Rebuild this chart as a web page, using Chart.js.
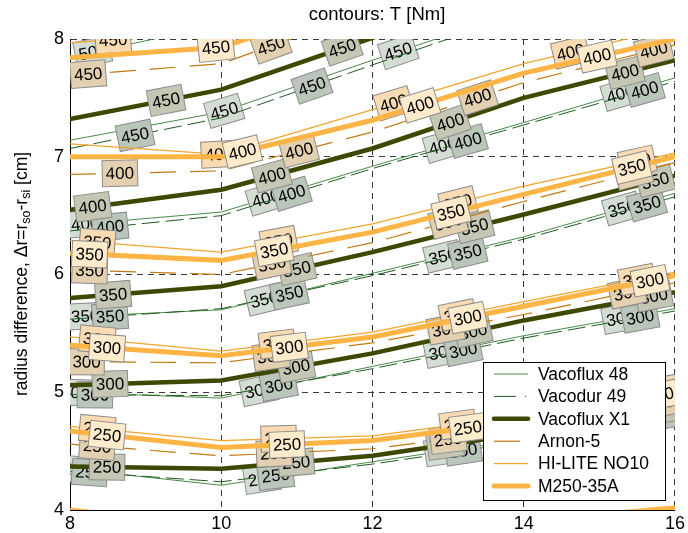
<!DOCTYPE html>
<html>
<head>
<meta charset="utf-8">
<script src="https://cdn.jsdelivr.net/npm/chart.js@4"></script>
<style>
  html, body { margin: 0; padding: 0; background: #fff; }
</style>
</head>
<body>
<canvas id="chart" width="688" height="533"></canvas>
<script>
// grid of outer-radius values and torque levels of the contour lines
const xGrid = [8, 10, 12, 14, 16];
const levels = [200, 250, 300, 350, 400, 450, 500];

// one row per level (null = no contour for that material)
const vacoflux48 = [
  null,
  [4.35, 4.21, 4.41, 4.60, 4.84],
  [5.00, 4.95, 5.22, 5.48, 5.71],
  [5.64, 5.70, 6.01, 6.32, 6.69],
  [6.42, 6.53, 6.92, 7.29, 7.67],
  [7.14, 7.38, 7.82, 8.25, 8.65],
  [7.85, 8.12, 8.55, 9.00, 9.40],
];
const vacodur49 = [
  null,
  [4.33, 4.24, 4.39, 4.58, 4.82],
  [4.98, 4.97, 5.20, 5.46, 5.69],
  [5.62, 5.71, 5.99, 6.30, 6.66],
  [6.37, 6.50, 6.90, 7.27, 7.64],
  [7.07, 7.33, 7.78, 8.22, 8.60],
  null,
];
const vacofluxX1 = [
  null,
  [4.37, 4.35, 4.46, 4.65, 4.87],
  [5.06, 5.10, 5.33, 5.61, 5.85],
  [5.80, 5.90, 6.19, 6.51, 6.84],
  [6.55, 6.72, 7.07, 7.50, 7.82],
  [7.32, 7.57, 8.01, 8.45, 8.85],
  null,
];
const arnon5 = [
  null,
  [4.56, 4.46, 4.52, 4.68, 4.93],
  [5.26, 5.25, 5.42, 5.66, 5.93],
  [6.04, 6.00, 6.27, 6.62, 6.95],
  [6.85, 6.88, 7.21, 7.63, 7.95],
  [7.69, 7.79, 8.25, 8.60, 8.90],
  null,
];
const hiLite = [
  null,
  [4.71, 4.59, 4.63, 4.80, 5.04],
  [5.47, 5.35, 5.51, 5.77, 6.02],
  [6.29, 6.19, 6.43, 6.75, 7.03],
  [7.11, 7.02, 7.40, 7.79, 8.10],
  [7.97, 8.05, 8.45, 8.80, 9.10],
  null,
];
const m250 = [
  [4.00, 3.85, 3.84, 3.90, 4.02],
  [4.67, 4.53, 4.59, 4.76, 5.00],
  [5.40, 5.31, 5.47, 5.73, 5.99],
  [6.18, 6.12, 6.36, 6.68, 7.00],
  [7.00, 7.00, 7.31, 7.71, 8.00],
  [7.84, 7.93, 8.35, 8.70, 9.00],
  null,
];

// inline labels: [level, x position]
const labelsV48 = [
  [250, 8.09], [250, 10.54], [250, 12.93], [250, 15.8],
  [300, 8.07], [300, 10.5], [300, 12.93], [300, 15.28],
  [350, 8.2], [350, 10.57], [350, 12.93], [350, 15.3],
  [400, 8.2], [400, 10.59], [400, 12.93], [400, 15.28],
  [450, 10.04], [450, 12.34], [500, 8.3],
];
const labelsV49 = [
  [250, 8.26], [250, 10.72], [250, 13.2], [250, 15.8],
  [300, 8.33], [300, 10.76], [300, 13.2], [300, 15.54],
  [350, 8.53], [350, 10.9], [350, 13.26], [350, 15.63],
  [400, 8.53], [400, 10.93], [400, 13.26], [400, 15.6],
  [450, 8.86], [450, 11.2],
];
const labelsX1 = [
  [250, 8.49], [250, 10.99], [250, 12.96], [250, 15.8],
  [300, 8.53], [300, 10.99], [300, 13.33], [300, 15.72],
  [350, 8.57], [350, 11.0], [350, 13.35], [350, 15.74],
  [400, 8.3], [400, 10.67], [400, 13.03], [400, 15.34],
  [450, 9.27], [450, 11.6],
];
const labelsArnon = [
  [250, 8.36], [250, 10.7], [250, 13.0], [250, 15.8],
  [300, 8.22], [300, 10.66], [300, 12.97], [300, 15.37],
  [350, 8.26], [350, 10.67], [350, 13.0], [350, 15.45],
  [400, 8.66], [400, 11.03], [400, 13.39], [400, 15.72],
  [450, 8.24], [450, 10.66],
];
const labelsHiLite = [
  [250, 8.36], [250, 10.76], [250, 13.13], [250, 15.8],
  [300, 8.36], [300, 10.74], [300, 13.13], [300, 15.5],
  [350, 8.36], [350, 10.76], [350, 13.13], [350, 15.5],
  [400, 9.97], [400, 12.28], [400, 14.62],
  [450, 8.57],
];
const labelsM250 = [
  [250, 8.49], [250, 10.87], [250, 13.26], [250, 15.8],
  [300, 8.49], [300, 10.9], [300, 13.26], [300, 15.67],
  [350, 8.26], [350, 10.7], [350, 13.04], [350, 15.43],
  [400, 10.28], [400, 12.63], [400, 14.97],
  [450, 9.93],
];

const seriesNames = ['Vacoflux 48', 'Vacodur 49', 'Vacoflux X1', 'Arnon-5', 'HI-LITE NO10', 'M250-35A'];
const seriesRows = [vacoflux48, vacodur49, vacofluxX1, arnon5, hiLite, m250];
const seriesLabels = [labelsV48, labelsV49, labelsX1, labelsArnon, labelsHiLite, labelsM250];

const lineColors = ['#4a8a4a', '#1f5c1f', '#3d4800', '#c07a10', '#f3a42c', '#ffb545'];
const lineWidths = [1, 1, 4.5, 1.2, 1.3, 5];
const lineDashes = [[], [18, 6], [], [26, 14], [], []];
const boxColors = ['#d4ddd4', '#b9c6b9', '#c5c7b4', '#e3d0b0', '#f8dbb2', '#feebcc'];

const FONT = '"Liberation Sans", Arial, sans-serif';

function valueAt(row, x) {
  let i = 0;
  while (i < xGrid.length - 2 && x > xGrid[i + 1]) i++;
  const t = (x - xGrid[i]) / (xGrid[i + 1] - xGrid[i]);
  return row[i] + t * (row[i + 1] - row[i]);
}

function buildPoints(rows) {
  const pts = [];
  rows.forEach((row) => {
    if (!row) return;
    row.forEach((v, i) => pts.push({ x: xGrid[i], y: v }));
    pts.push({ x: xGrid[xGrid.length - 1], y: null });
  });
  return pts;
}

// contour value boxes, drawn right after their own lines
const contourLabels = {
  id: 'contourLabels',
  afterDatasetDraw(chart, args) {
    const s = args.index;
    const { ctx, chartArea, scales } = chart;
    ctx.save();
    ctx.beginPath();
    ctx.rect(chartArea.left, chartArea.top, chartArea.right - chartArea.left, chartArea.bottom - chartArea.top);
    ctx.clip();
    ctx.font = '17px ' + FONT;
    seriesLabels[s].forEach(([level, x]) => {
      const row = seriesRows[s][levels.indexOf(level)];
      const px = scales.x.getPixelForValue(x);
      const py = scales.y.getPixelForValue(valueAt(row, x));
      const ax = scales.x.getPixelForValue(x - 0.1);
      const ay = scales.y.getPixelForValue(valueAt(row, x - 0.1));
      const bx = scales.x.getPixelForValue(x + 0.1);
      const by = scales.y.getPixelForValue(valueAt(row, x + 0.1));
      const angle = Math.atan2(by - ay, bx - ax);
      const text = String(level);
      const w = ctx.measureText(text).width + 7;
      const h = 26;
      ctx.save();
      ctx.translate(px, py);
      ctx.rotate(angle);
      ctx.fillStyle = boxColors[s];
      ctx.fillRect(-w / 2, -h / 2, w, h);
      ctx.strokeStyle = '#8c8c8c';
      ctx.lineWidth = 1;
      ctx.strokeRect(-w / 2, -h / 2, w, h);
      ctx.fillStyle = '#000';
      ctx.textAlign = 'center';
      ctx.textBaseline = 'middle';
      ctx.fillText(text, 0, 1);
      ctx.restore();
    });
    ctx.restore();
  },
};

// title, y-axis label with subscripts, and the boxed legend
const decorations = {
  id: 'decorations',
  afterDraw(chart) {
    const { ctx } = chart;
    ctx.save();
    ctx.fillStyle = '#000';
    ctx.font = '18.5px ' + FONT;
    ctx.textAlign = 'center';
    ctx.textBaseline = 'middle';
    ctx.fillText('contours: T [Nm]', 377, 15);

    // y-axis title
    const parts = [
      ['radius difference, \u0394r=r', false],
      ['so', true],
      ['-r', false],
      ['si', true],
      [' [cm]', false],
    ];
    const widths = parts.map(([t, sub]) => {
      ctx.font = (sub ? '12.5px ' : '17.5px ') + FONT;
      return ctx.measureText(t).width;
    });
    const total = widths.reduce((a, b) => a + b, 0);
    ctx.translate(22, 274);
    ctx.rotate(-Math.PI / 2);
    ctx.textAlign = 'left';
    let pos = -total / 2;
    parts.forEach(([t, sub], i) => {
      ctx.font = (sub ? '12.5px ' : '17.5px ') + FONT;
      ctx.fillText(t, pos, sub ? 5 : 0);
      pos += widths[i];
    });
    ctx.restore();

    // legend
    ctx.save();
    const lx = 483, ly = 362, lw = 182, lh = 138;
    ctx.fillStyle = '#fff';
    ctx.fillRect(lx, ly, lw, lh);
    ctx.strokeStyle = '#000';
    ctx.lineWidth = 1;
    ctx.strokeRect(lx + 0.5, ly + 0.5, lw, lh);
    ctx.font = '17.5px ' + FONT;
    ctx.textBaseline = 'middle';
    seriesNames.forEach((name, i) => {
      const y = ly + 12 + i * 22.4;
      ctx.beginPath();
      ctx.setLineDash(i === 1 ? [22, 9, 1, 9] : lineDashes[i]);
      ctx.strokeStyle = lineColors[i];
      ctx.lineWidth = lineWidths[i];
      ctx.lineCap = lineWidths[i] > 2 ? 'round' : 'butt';
      ctx.moveTo(lx + 11, y);
      ctx.lineTo(lx + 45, y);
      ctx.stroke();
      ctx.setLineDash([]);
      ctx.fillStyle = '#000';
      ctx.fillText(name, lx + 55, y + 1);
    });
    ctx.restore();
  },
};

const datasets = seriesNames.map((name, i) => ({
  label: name,
  data: buildPoints(seriesRows[i]),
  borderColor: lineColors[i],
  borderWidth: lineWidths[i],
  borderDash: lineDashes[i],
  pointRadius: 0,
  tension: 0,
  spanGaps: false,
  fill: false,
  clip: 0,
  order: seriesNames.length - 1 - i,
}));

const gridDash = [6, 5];

new Chart(document.getElementById('chart').getContext('2d'), {
  type: 'line',
  data: { datasets },
  options: {
    responsive: false,
    animation: false,
    layout: { padding: { top: 39, right: 11, left: 0, bottom: 0 } },
    plugins: {
      legend: { display: false },
      tooltip: { enabled: false },
    },
    scales: {
      x: {
        type: 'linear',
        min: 8,
        max: 16,
        ticks: { stepSize: 2, color: '#000', font: { size: 18, family: FONT }, padding: 3 },
        grid: { color: '#3a3a3a', lineWidth: 1, drawTicks: false },
        border: { display: true, color: '#000', width: 1, dash: gridDash },
        afterFit(scale) { scale.height = 23; },
      },
      y: {
        type: 'linear',
        min: 4,
        max: 8,
        ticks: { stepSize: 1, color: '#000', font: { size: 18, family: FONT }, padding: 6 },
        grid: { color: '#3a3a3a', lineWidth: 1, drawTicks: false },
        border: { display: true, color: '#000', width: 1, dash: gridDash },
        afterFit(scale) { scale.width = 70; },
      },
    },
  },
  plugins: [contourLabels, decorations],
});
</script>
</body>
</html>
